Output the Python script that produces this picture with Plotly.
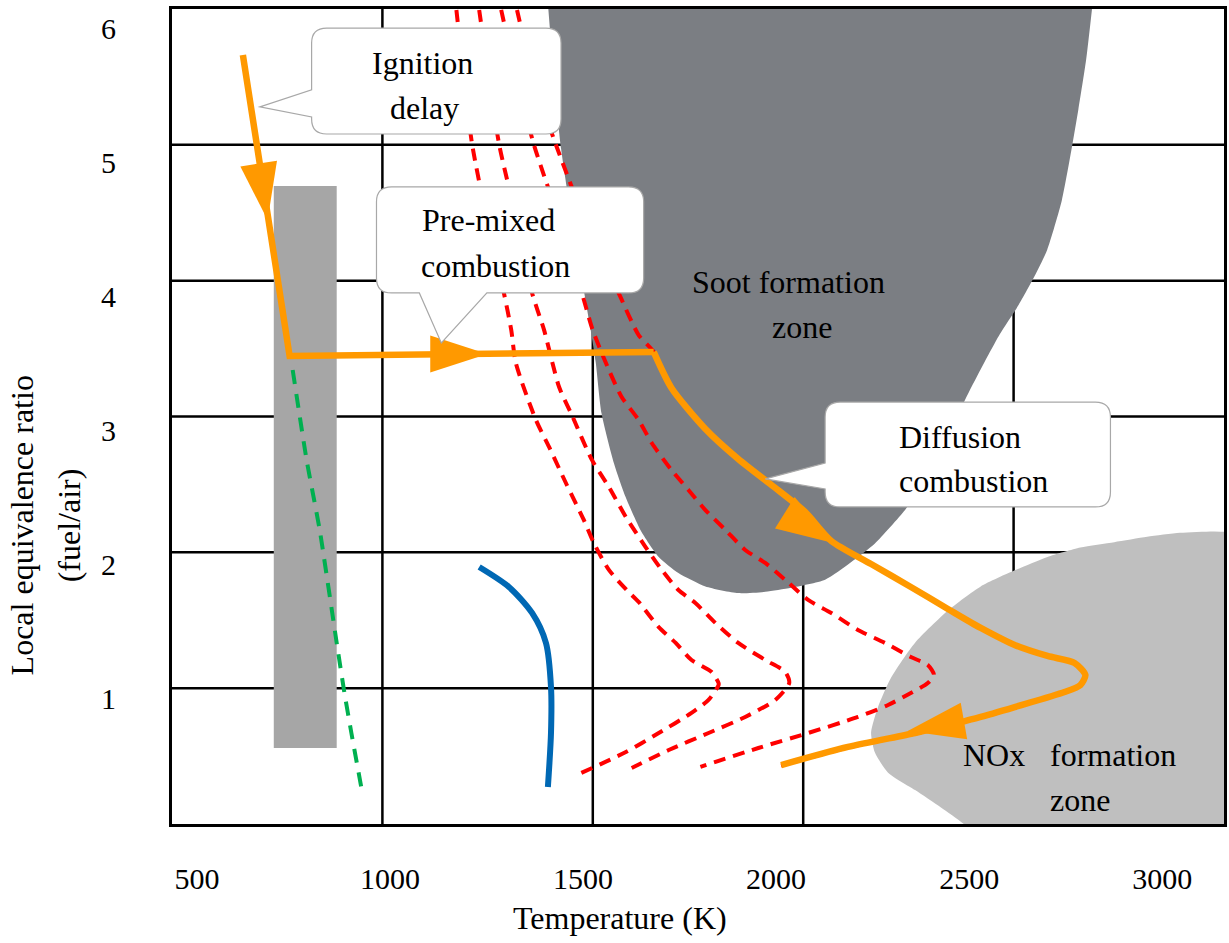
import plotly.graph_objects as go

# ---------------------------------------------------------------- data
temp_ticks = [500, 1000, 1500, 2000, 2500, 3000]
phi_ticks = [1, 2, 3, 4, 5, 6]

# Soot formation zone outline (temperature K, local equivalence ratio)
soot_T = [1406, 1425, 1443, 1463, 1484, 1502, 1520, 1533, 1548, 1580, 1610, 1649,
          1696, 1747, 1817, 1902, 1972, 2039, 2127, 2194, 2256, 2334, 2375, 2419,
          2489, 2530, 2579, 2628, 2672, 2702, 2740, 2767, 2783, 2803, 2824]
soot_phi = [6.30, 5.62, 5.11, 4.72, 4.35, 4.05, 3.75, 3.51, 3.13, 2.76, 2.51, 2.26,
            2.06, 1.94, 1.84, 1.79, 1.80, 1.83, 1.89, 2.02, 2.16, 2.41, 2.58, 2.81,
            3.23, 3.46, 3.72, 3.94, 4.17, 4.35, 4.72, 5.13, 5.40, 5.77, 6.30]

# NOx formation zone outline
nox_T = [3207, 3134, 3046, 2961, 2876, 2788, 2703, 2618, 2530, 2445, 2360, 2298,
         2264, 2246, 2256, 2290, 2360, 2427, 2489, 2535, 3207]
nox_phi = [2.24, 2.25, 2.24, 2.21, 2.17, 2.13, 2.06, 1.96, 1.84, 1.66, 1.42, 1.16,
           0.94, 0.75, 0.60, 0.45, 0.32, 0.19, 0.06, -0.09, -0.09]

# Injection / ignition band
ign_T = [699, 862]
ign_phi = [0.634, 4.828]

# Lean ignition limit (green dashed)
green_T = [748, 784, 818, 862, 882, 900, 926]
green_phi = [3.455, 2.784, 2.261, 1.418, 1.045, 0.746, 0.336]

# Blue solid curve
blue_T = [1231, 1308, 1368, 1404, 1417, 1417, 1409]
blue_phi = [1.985, 1.836, 1.642, 1.418, 1.090, 0.746, 0.343]

# Red dashed curves
redA_T = [1172, 1192, 1213, 1257, 1295, 1314, 1326, 1378, 1412, 1458, 1502, 1528,
          1567, 1613, 1644, 1696, 1740, 1781, 1833, 1851, 1851, 1825, 1781, 1696,
          1611, 1484]
redA_phi = [6.142, 5.619, 5.134, 4.500, 4.030, 3.754, 3.507, 3.082, 2.881, 2.597,
            2.336, 2.164, 1.963, 1.813, 1.724, 1.537, 1.418, 1.291, 1.201, 1.119,
            1.104, 0.993, 0.896, 0.746, 0.604, 0.433]

redB_T = [1231, 1257, 1283, 1334, 1368, 1399, 1438, 1471, 1523, 1567, 1611, 1662,
          1704, 1747, 1791, 1843, 1902, 1972, 2024, 2034, 1998, 1920, 1825, 1722,
          1626]
redB_phi = [6.142, 5.619, 5.134, 4.500, 4.030, 3.754, 3.328, 3.119, 2.784, 2.582,
            2.358, 2.134, 1.963, 1.813, 1.716, 1.567, 1.418, 1.291, 1.201, 1.119,
            0.993, 0.866, 0.746, 0.619, 0.485]

redC_T = [1288, 1329, 1373, 1438, 1497, 1525, 1567, 1600, 1644, 1678, 1729, 1773,
          1817, 1869, 1920, 1972, 2024, 2083, 2143, 2212, 2282, 2349, 2393, 2409,
          2393, 2349, 2290, 2212, 2083, 1954, 1804]
redC_phi = [6.142, 5.619, 5.134, 4.575, 4.030, 3.754, 3.455, 3.254, 3.082, 2.910,
            2.709, 2.560, 2.410, 2.261, 2.112, 2.015, 1.888, 1.739, 1.642, 1.515,
            1.418, 1.313, 1.254, 1.179, 1.119, 1.045, 0.955, 0.866, 0.746, 0.634,
            0.493]

redD_T = [1329, 1373, 1430, 1515, 1592, 1644, 1683, 1729, 1817, 1902, 1988, 2075,
          2143, 2246, 2349, 2445, 2530, 2618, 2703, 2773, 2801, 2788, 2747, 2618,
          2530, 2470, 2360, 2186, 2013]
redD_phi = [6.142, 5.619, 5.134, 4.500, 4.030, 3.716, 3.590, 3.321, 3.015, 2.791,
            2.597, 2.396, 2.179, 2.007, 1.836, 1.672, 1.530, 1.403, 1.321, 1.269,
            1.179, 1.104, 1.052, 0.935, 0.862, 0.818, 0.742, 0.638, 0.503]

# Combustion path (orange): ignition delay -> pre-mixed -> diffusion
path_T = [619, 740, 1683, 1729, 1817, 1902, 1988, 2075, 2143, 2246, 2349, 2445,
          2530, 2618, 2703, 2773, 2801, 2788, 2747, 2618, 2530, 2470, 2360, 2186,
          2013]
path_phi = [5.806, 3.560, 3.590, 3.321, 3.015, 2.791, 2.597, 2.396, 2.179, 2.007,
            1.836, 1.672, 1.530, 1.403, 1.321, 1.269, 1.179, 1.104, 1.052, 0.940,
            0.866, 0.821, 0.746, 0.642, 0.507]

# Arrow tips along the combustion path and their headings (deg, clockwise from up)
arrow_T = [683, 1252, 2148, 2341]
arrow_phi = [4.575, 3.575, 2.164, 0.761]
arrow_angle = [171, 90, 122, 260]

# ---------------------------------------------------------------- styles
SERIF = "Liberation Serif"
ORANGE = "#ff9900"
RED = "#ff0000"

fig = go.Figure()

# shaded zones
fig.add_trace(go.Scatter(x=soot_T, y=soot_phi, mode="lines", fill="toself",
                         fillcolor="#7b7e83", line=dict(width=0, shape="spline", smoothing=0.6),
                         hoverinfo="skip", showlegend=False))
fig.add_trace(go.Scatter(x=nox_T, y=nox_phi, mode="lines", fill="toself",
                         fillcolor="#bfbfbf", line=dict(width=0, shape="spline", smoothing=0.6),
                         hoverinfo="skip", showlegend=False))
fig.add_trace(go.Scatter(x=[ign_T[0], ign_T[1], ign_T[1], ign_T[0], ign_T[0]],
                         y=[ign_phi[0], ign_phi[0], ign_phi[1], ign_phi[1], ign_phi[0]],
                         mode="lines", fill="toself", fillcolor="#a6a6a6",
                         line=dict(width=0), hoverinfo="skip", showlegend=False))

# red dashed curves
for xs, ys in [(redA_T, redA_phi), (redB_T, redB_phi), (redC_T, redC_phi), (redD_T, redD_phi)]:
    fig.add_trace(go.Scatter(x=xs, y=ys, mode="lines",
                             line=dict(color=RED, width=4, dash="12px,8px",
                                       shape="spline", smoothing=0.7),
                             hoverinfo="skip", showlegend=False))

# green dashed limit
fig.add_trace(go.Scatter(x=green_T, y=green_phi, mode="lines",
                         line=dict(color="#00b050", width=4, dash="14px,10px",
                                   shape="spline", smoothing=0.5),
                         hoverinfo="skip", showlegend=False))

# blue curve
fig.add_trace(go.Scatter(x=blue_T, y=blue_phi, mode="lines",
                         line=dict(color="#0068b4", width=6, shape="spline", smoothing=0.8),
                         hoverinfo="skip", showlegend=False))

# orange combustion path: straight legs, then the smooth diffusion branch
fig.add_trace(go.Scatter(x=path_T[:3], y=path_phi[:3], mode="lines",
                         line=dict(color=ORANGE, width=6.5),
                         hoverinfo="skip", showlegend=False))
fig.add_trace(go.Scatter(x=path_T[2:], y=path_phi[2:], mode="lines",
                         line=dict(color=ORANGE, width=6.5, shape="spline", smoothing=0.7),
                         hoverinfo="skip", showlegend=False))
fig.add_trace(go.Scatter(x=arrow_T, y=arrow_phi, mode="markers",
                         marker=dict(symbol="arrow", size=60, color=ORANGE,
                                     angle=arrow_angle, line=dict(width=0)),
                         hoverinfo="skip", showlegend=False))

# ---------------------------------------------------------------- grid
shapes = []
for f in [0.2, 0.4, 0.6, 0.8]:
    shapes.append(dict(type="line", xref="x domain", yref="y domain", x0=f, x1=f, y0=0, y1=1,
                       line=dict(color="black", width=2.5), layer="below"))
for k in range(1, 6):
    f = k / 6
    shapes.append(dict(type="line", xref="x domain", yref="y domain", x0=0, x1=1, y0=f, y1=f,
                       line=dict(color="black", width=2.5), layer="below"))


# ---------------------------------------------------------------- callouts
def callout_path(x0, x1, y0, y1, side, base, tip, rx=39, ry=0.112):
    p = [f"M{x0 + rx},{y1}", f"L{x1 - rx},{y1}",
         f"Q{x1},{y1} {x1},{y1 - ry}", f"L{x1},{y0 + ry}",
         f"Q{x1},{y0} {x1 - rx},{y0}"]
    if side == "bottom":
        p += [f"L{base[1]},{y0}", f"L{tip[0]},{tip[1]}", f"L{base[0]},{y0}"]
    p += [f"L{x0 + rx},{y0}", f"Q{x0},{y0} {x0},{y0 + ry}"]
    if side == "left":
        p += [f"L{x0},{base[0]}", f"L{tip[0]},{tip[1]}", f"L{x0},{base[1]}"]
    p += [f"L{x0},{y1 - ry}", f"Q{x0},{y1} {x0 + rx},{y1}", "Z"]
    return " ".join(p)


callouts = [
    dict(x0=797, x1=1443, y0=5.216, y1=6.007, side="left", base=(5.343, 5.545), tip=(663, 5.418)),
    dict(x0=965, x1=1657, y0=4.030, y1=4.821, side="bottom", base=(1076, 1251), tip=(1133, 3.657)),
    dict(x0=2127, x1=2866, y0=2.433, y1=3.216, side="left", base=(2.567, 2.761), tip=(1972, 2.642)),
]
for c in callouts:
    shapes.append(dict(type="path", xref="x", yref="y",
                       path=callout_path(c["x0"], c["x1"], c["y0"], c["y1"],
                                         c["side"], c["base"], c["tip"]),
                       fillcolor="white", line=dict(color="#a8a8a8", width=1.2),
                       layer="above"))

# ---------------------------------------------------------------- text
tfont = dict(family=SERIF, size=32, color="black")
labels = [
    ("Ignition", 1084, 5.746, "center"),
    ("delay", 1089, 5.410, "center"),
    ("Pre-mixed", 1078, 4.575, "left"),
    ("combustion", 1076, 4.231, "left"),
    ("Diffusion", 2313, 2.955, "left"),
    ("combustion", 2313, 2.627, "left"),
    ("Soot formation", 2033, 4.112, "center"),
    ("zone", 2066, 3.776, "center"),
    ("NOx", 2478, 0.582, "left"),
    ("formation", 2703, 0.582, "left"),
    ("zone", 2703, 0.246, "left"),
]
annotations = [dict(text=t, x=x, y=y, xref="x", yref="y", xanchor=a, yanchor="middle",
                    showarrow=False, font=tfont) for t, x, y, a in labels]

annotations += [
    dict(text="Temperature (K)", x=(621 - 172) / 1055, y=-0.1153, xref="paper", yref="paper",
         xanchor="center", yanchor="middle", showarrow=False, font=tfont),
    dict(text="Local equivalence ratio", x=-0.1422, y=0.3669, xref="paper", yref="paper",
         xanchor="center", yanchor="middle", textangle=-90, showarrow=False, font=tfont),
    dict(text="(fuel/air)", x=-0.0976, y=0.3669, xref="paper", yref="paper",
         xanchor="center", yanchor="middle", textangle=-90, showarrow=False, font=tfont),
]

axis_common = dict(showgrid=False, zeroline=False, showline=True, mirror=True,
                   linecolor="black", linewidth=3, ticks="outside",
                   tickcolor="rgba(0,0,0,0)",
                   tickfont=dict(family=SERIF, size=30, color="black"))

fig.update_layout(
    width=1229, height=943,
    margin=dict(l=172, r=2, t=9, b=119),
    paper_bgcolor="white", plot_bgcolor="white",
    xaxis=dict(range=[435.4, 3160.1], tickvals=temp_ticks,
               ticktext=[str(v) for v in temp_ticks], ticklen=26, **axis_common),
    yaxis=dict(range=[0.067, 6.149], tickvals=phi_ticks,
               ticktext=[str(v) for v in phi_ticks], ticklen=47, **axis_common),
    shapes=shapes,
    annotations=annotations,
    showlegend=False,
)

fig.write_html("out.html")
